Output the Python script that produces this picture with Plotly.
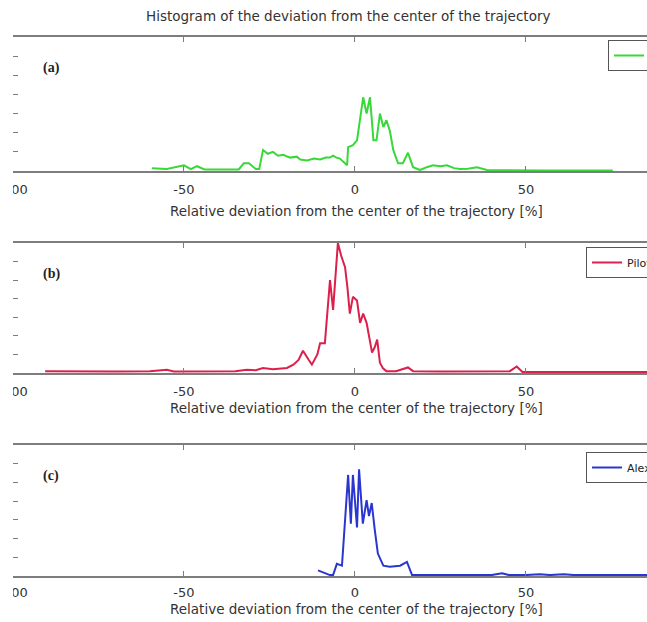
import plotly.graph_objects as go

# ---------------- data ----------------
title_text = "Histogram of the deviation from the center of the trajectory"
xlabel_text = "Relative deviation from the center of the trajectory [%]"
panel_labels = ["(a)", "(b)", "(c)"]
series_names = ["Auto", "Pilot", "Alex"]
x_ticks = [-100, -50, 0, 50]
x_tick_labels = ["-100", "-50", "0", "50"]

a_x = [-59.4, -55, -50, -48, -46.2, -44, -34, -32.5, -31, -29, -28, -26.9, -25.5, -24, -22.5,
       -21, -19, -17, -16, -14, -12, -10.2, -8.5, -7.3, -6.4, -5.4, -4.4, -3.3, -2.3, -2,
       -0.6, 0.6, 1.5, 2.4, 3.4, 4.4, 5.4, 6.3, 7.3, 8.3, 9.2, 10.2, 11.2, 12.6, 14,
       15.5, 17, 19, 21, 22.8, 25, 26.9, 29, 30.7, 33, 35.7, 38.6, 45, 55, 65, 75.4]
a_y = [0.15, 0.1, 0.3, 0.1, 0.25, 0.08, 0.08, 0.4, 0.4, 0.1, 0.1, 1.1, 0.9, 1.0, 0.8,
       0.85, 0.7, 0.75, 0.6, 0.55, 0.65, 0.6, 0.7, 0.7, 0.8, 0.7, 0.65, 0.45, 0.3, 1.25,
       1.35, 1.6, 2.8, 3.85, 3.0, 3.85, 1.6, 1.6, 3.0, 2.3, 2.65, 2.1, 1.1, 0.4, 0.4,
       0.95, 0.2, 0.05, 0.2, 0.3, 0.25, 0.3, 0.15, 0.1, 0.12, 0.2, 0.05, 0.03, 0.03, 0.03, 0.03]

b_x = [-90.6, -80, -70, -60, -55, -53, -45, -35, -31.6, -29, -26.9, -24, -19.9, -18, -16.5,
       -15.2, -13.5, -12.6, -11, -10.2, -8.8, -7.3, -6.4, -5, -4, -2.9, -2.2, -1.5, -0.6,
       0.6, 1.5, 2.4, 3.4, 4.2, 5, 5.8, 6.5, 7.3, 8.2, 9.2, 12, 15.5, 17, 25, 35, 45.3,
       47.3, 49, 60, 70, 85.4]
b_y = [0.1, 0.08, 0.08, 0.1, 0.17, 0.08, 0.08, 0.1, 0.17, 0.15, 0.27, 0.2, 0.27, 0.45, 0.7,
       1.2, 0.7, 0.45, 1.0, 1.6, 1.6, 5.0, 3.4, 7.0, 6.3, 5.7, 4.6, 3.2, 4.1,
       3.9, 2.7, 3.2, 2.7, 1.8, 1.1, 1.4, 1.8, 0.55, 0.25, 0.1, 0.1, 0.3, 0.1, 0.08, 0.08, 0.1,
       0.35, 0.05, 0.05, 0.05, 0.05]

c_x = [-10.8, -9, -7.3, -6.4, -5.3, -3.8, -2.9, -2, -1.2, -0.6, 0.6, 1.2, 2.3, 3.4, 4.1,
       4.9, 5.8, 6.7, 8.3, 10.2, 13.2, 15.2, 16.7, 20, 30, 40, 43, 45, 50, 54, 57, 61,
       64, 75, 85.4]
c_y = [0.3, 0.15, 0.05, 0.05, 0.65, 0.55, 2.8, 5.4, 2.8, 5.4, 2.6, 5.7, 2.8, 4.05, 3.2,
       3.9, 2.45, 1.2, 0.55, 0.5, 0.55, 0.75, 0.05, 0.05, 0.05, 0.05, 0.15, 0.05, 0.05, 0.1, 0.05, 0.1,
       0.05, 0.05, 0.05]

colors = ["#38d838", "#dc1f4b", "#2a36cf"]

# ---------------- figure ----------------
W, H = 647, 622
L = 13
plot_w = W - L
SANS = "DejaVu Sans, Verdana, sans-serif"


def py(px):
    return 1 - px / H


panels = [  # top, bottom pixel of each axes box
    (37, 171),
    (243, 373),
    (445, 576),
]
label_y = [211, 408, 609]
standoffs = [6, 6, 4]
xs = [a_x, b_x, c_x]
ys = [a_y, b_y, c_y]

fig = go.Figure()
axis_col = "#7d7d7d"
tick_font = dict(family=SANS, size=13, color="#333333")

legend_specs = [(608, 40), (586, 247), (586, 452)]

for i in range(3):
    sfx = "" if i == 0 else str(i + 1)
    fig.add_trace(go.Scatter(
        x=xs[i], y=ys[i], mode="lines", name=series_names[i],
        line=dict(color=colors[i], width=2),
        xaxis="x" + sfx, yaxis="y" + sfx,
        legend="legend" + sfx,
    ))
    top, bot = panels[i]
    fig.layout["xaxis" + sfx] = dict(
        domain=[0, 1], anchor="y" + sfx, range=[-100, 85.4],
        tickvals=x_ticks, ticktext=x_tick_labels, ticklabeloverflow="allow",
        ticks="inside", ticklen=5, tickcolor=axis_col,
        showline=True, linecolor=axis_col, linewidth=1.5, mirror="ticks",
        showgrid=False, zeroline=False, tickfont=tick_font,
        ticklabelstandoff=standoffs[i],
    )
    fig.layout["yaxis" + sfx] = dict(
        domain=[py(bot), py(top)], anchor="x" + sfx, range=[0, 7],
        dtick=1, ticks="inside", ticklen=5, tickcolor=axis_col,
        showline=False, showgrid=False, zeroline=False, showticklabels=False,
    )
    lx, ly = legend_specs[i]
    fig.layout["legend" + sfx] = dict(
        x=(lx - L) / plot_w, y=py(ly), xanchor="left", yanchor="top",
        bgcolor="white", bordercolor="#555555", borderwidth=1,
        font=dict(family=SANS, size=11, color="#222222"),
    )
    # panel label
    fig.add_annotation(
        x=(41 - L) / plot_w, y=py(top + 31), xref="paper", yref="paper",
        xanchor="left", yanchor="middle", showarrow=False,
        text="<b>" + panel_labels[i] + "</b>",
        font=dict(family="Liberation Serif, Times New Roman, serif", size=14, color="#222222"),
    )
    # x axis title
    fig.add_annotation(
        x=(356 - L) / plot_w, y=py(label_y[i]), xref="paper", yref="paper",
        xanchor="center", yanchor="middle", showarrow=False,
        text=xlabel_text,
        font=dict(family=SANS, size=13.5, color="#333333"),
    )

fig.add_annotation(
    x=(348 - L) / plot_w, y=py(16), xref="paper", yref="paper",
    xanchor="center", yanchor="middle", showarrow=False, text=title_text,
    font=dict(family=SANS, size=13.5, color="#333333"),
)

# white strip covering the cropped-away left margin
fig.add_shape(type="rect", xref="paper", yref="paper", x0=-0.1, x1=0, y0=-0.1, y1=1.1,
              fillcolor="white", line=dict(width=0), layer="above")

fig.update_layout(
    width=W, height=H,
    margin=dict(l=L, r=0, t=0, b=0, autoexpand=False),
    paper_bgcolor="white", plot_bgcolor="white",
    showlegend=True,
)

fig.write_html(
    "out.html",
    config={"displayModeBar": False},
    post_script="document.body.style.margin='0';document.body.style.overflow='hidden';",
)
